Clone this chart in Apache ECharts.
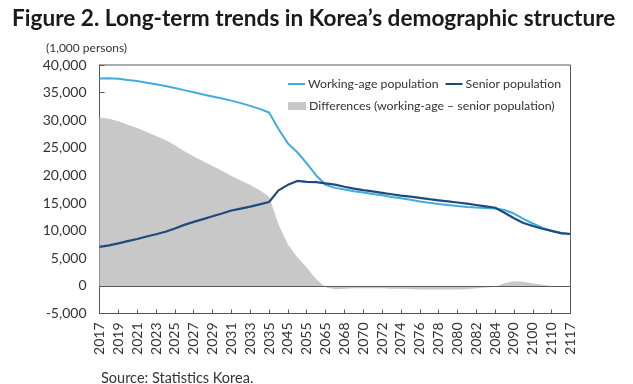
<!DOCTYPE html>
<html>
<head>
<meta charset="utf-8">
<script src="https://cdn.jsdelivr.net/npm/echarts@6/dist/echarts.min.js"></script>
<style>
html,body{margin:0;padding:0;background:#fff;}
#chart{width:633px;height:384px;}
</style>
</head>
<body>
<div id="chart"></div>
<script>
// Categories (ticks/labels shown at every other category)
const years = ['2017','2018','2019','2020','2021','2022','2023','2024','2025','2026','2027','2028','2029','2030','2031','2032','2033','2034','2035','2040','2045','2050','2055','2060','2065','2067','2068','2069','2070','2071','2072','2073','2074','2075','2076','2077','2078','2079','2080','2081','2082','2083','2084','2085','2090','2095','2100','2105','2110','2115','2117'];

// Working-age population (1,000 persons)
const workingAge = [37570,37600,37500,37300,37100,36800,36500,36200,35850,35450,35050,34650,34300,33950,33550,33100,32600,32050,31400,28400,25800,24200,22200,20000,18300,17750,17450,17150,16900,16650,16400,16100,15850,15600,15300,15050,14850,14650,14450,14300,14200,14100,14000,13750,13100,12150,11300,10550,9950,9550,9400];

// Senior population (1,000 persons)
const senior = [7050,7350,7700,8100,8500,8950,9350,9800,10400,11050,11600,12100,12600,13100,13650,14000,14350,14750,15200,17300,18300,19000,18850,18800,18550,18350,17950,17600,17330,17100,16850,16600,16350,16150,15950,15700,15500,15300,15100,14900,14650,14400,14150,13250,12250,11400,10850,10350,9950,9550,9400];

// Differences (working-age - senior)
const differences = [30500,30250,29800,29200,28600,27850,27150,26400,25450,24400,23450,22550,21700,20850,19900,19100,18250,17300,16200,11100,7500,5200,3350,1200,-250,-600,-500,-450,-430,-450,-450,-500,-500,-550,-650,-650,-650,-650,-650,-600,-450,-300,-150,500,850,750,450,200,0,0,0];

const yTicks = {min:-5000, max:40000, interval:5000};

const FONT = 'Lato';
const chart = echarts.init(document.getElementById('chart'), null, {renderer:'canvas'});
chart.setOption({
  animation:false,
  backgroundColor:'#fff',
  textStyle:{fontFamily:FONT},
  title:[
    {text:'Figure 2. Long-term trends in Korea’s demographic structure', left:7, top:2,
     textStyle:{fontFamily:FONT, fontSize:22.6, fontWeight:'bold', color:'#1a1a1a'}},
    {text:'(1,000 persons)', left:41, top:37, textStyle:{fontFamily:FONT, fontSize:12, fontWeight:'normal', color:'#333'}},
    {text:'Source: Statistics Korea.', left:96, top:366, textStyle:{fontFamily:FONT, fontSize:14.5, fontWeight:'normal', color:'#333'}}
  ],
  legend:[
    {data:['Working-age population','Senior population'], left:283, top:73, icon:'rect', itemWidth:17, itemHeight:2, itemGap:7,
     textStyle:{fontFamily:FONT, fontSize:12.3, color:'#333', padding:[0,0,0,-2]}, selectedMode:false},
    {data:['Differences (working-age – senior population)'], left:283, top:95, icon:'rect', itemWidth:18, itemHeight:8,
     textStyle:{fontFamily:FONT, fontSize:12.3, color:'#333', padding:[0,0,0,-2]}, selectedMode:false}
  ],
  grid:{left:99.5, right:62.5, top:65, bottom:70.5, show:true, borderColor:'#595959', borderWidth:1},
  xAxis:{type:'category', data:years, boundaryGap:false,
    axisLine:{onZero:false, lineStyle:{color:'#595959', width:1}},
    axisTick:{show:true, inside:true, length:4, interval:1, lineStyle:{color:'#595959'}},
    axisLabel:{interval:1, rotate:90, margin:9, fontFamily:FONT, fontSize:14, color:'#333'},
    splitLine:{show:false}},
  yAxis:{type:'value', min:yTicks.min, max:yTicks.max, interval:yTicks.interval,
    axisLine:{show:true, lineStyle:{color:'#595959', width:1}},
    axisTick:{show:true, inside:true, length:5, lineStyle:{color:'#595959'}},
    axisLabel:{margin:13, fontFamily:FONT, fontSize:14, color:'#333',
      formatter:v=>v.toLocaleString('en-US')},
    splitLine:{show:false}},
  series:[
    {name:'Differences (working-age – senior population)', type:'line', data:differences, symbol:'none',
     lineStyle:{width:0}, itemStyle:{color:'#c8c8c8'}, areaStyle:{color:'#c8c8c8', opacity:1}, z:1,
     markLine:{silent:true, symbol:'none', label:{show:false}, data:[{yAxis:0}],
       lineStyle:{color:'#595959', width:1, type:'solid'}}},
    {name:'Working-age population', type:'line', data:workingAge, symbol:'none',
     lineStyle:{width:2, color:'#41acde'}, itemStyle:{color:'#41acde'}, z:3},
    {name:'Senior population', type:'line', data:senior, symbol:'none',
     lineStyle:{width:2.2, color:'#1f4a7c'}, itemStyle:{color:'#1f4a7c'}, z:4}
  ]
});
</script>
</body>
</html>
